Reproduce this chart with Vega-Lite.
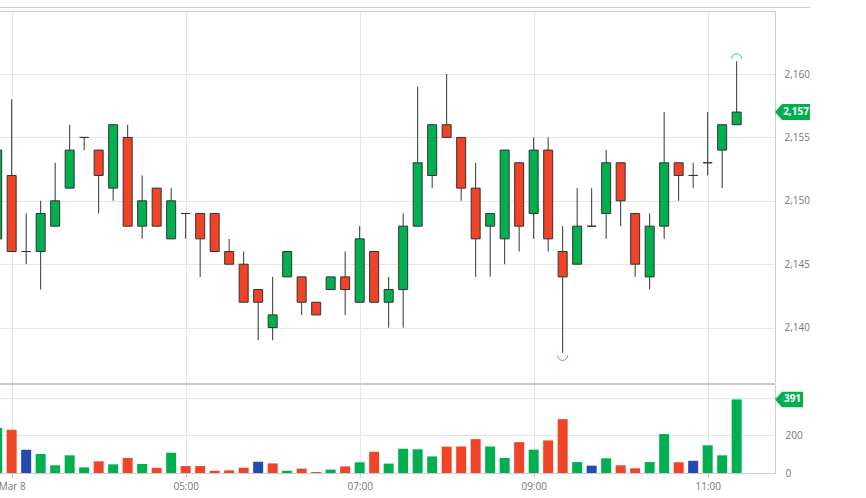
{
  "$schema": "https://vega.github.io/schema/vega-lite/v6.json",
  "padding": {"top": 7, "left": -2, "right": 0, "bottom": 0},
  "spacing": 0,
  "background": "white",
  "config": {
    "view": {"stroke": null},
    "axis": {"labelFont": "Open Sans", "labelFontSize": 10, "labelColor": "#757575", "gridColor": "#e6e6e6", "domainColor": "#cccccc", "tickColor": "#cccccc"}
  },
  "datasets": {
    "candles": [
      {"t":"2024-03-08T02:50:00","open":2147,"high":2155,"low":2146,"close":2154,"volume":239,"vdir":"up"},
      {"t":"2024-03-08T03:00:00","open":2152,"high":2158,"low":2146,"close":2146,"volume":230,"vdir":"down"},
      {"t":"2024-03-08T03:10:00","open":2146,"high":2149,"low":2145,"close":2146,"volume":124,"vdir":"flat"},
      {"t":"2024-03-08T03:20:00","open":2146,"high":2150,"low":2143,"close":2149,"volume":101,"vdir":"up"},
      {"t":"2024-03-08T03:30:00","open":2148,"high":2153,"low":2148,"close":2150,"volume":41,"vdir":"up"},
      {"t":"2024-03-08T03:40:00","open":2151,"high":2156,"low":2151,"close":2154,"volume":94,"vdir":"up"},
      {"t":"2024-03-08T03:50:00","open":2155,"high":2155,"low":2154,"close":2155,"volume":30,"vdir":"up"},
      {"t":"2024-03-08T04:00:00","open":2154,"high":2154,"low":2149,"close":2152,"volume":62,"vdir":"down"},
      {"t":"2024-03-08T04:10:00","open":2151,"high":2156,"low":2150,"close":2156,"volume":46,"vdir":"up"},
      {"t":"2024-03-08T04:20:00","open":2155,"high":2156,"low":2148,"close":2148,"volume":80,"vdir":"down"},
      {"t":"2024-03-08T04:30:00","open":2148,"high":2152,"low":2147,"close":2150,"volume":48,"vdir":"up"},
      {"t":"2024-03-08T04:40:00","open":2151,"high":2151,"low":2148,"close":2148,"volume":27,"vdir":"down"},
      {"t":"2024-03-08T04:50:00","open":2147,"high":2151,"low":2147,"close":2150,"volume":108,"vdir":"up"},
      {"t":"2024-03-08T05:00:00","open":2149,"high":2149,"low":2147,"close":2149,"volume":37,"vdir":"down"},
      {"t":"2024-03-08T05:10:00","open":2149,"high":2149,"low":2144,"close":2147,"volume":37,"vdir":"down"},
      {"t":"2024-03-08T05:20:00","open":2149,"high":2149,"low":2146,"close":2146,"volume":12,"vdir":"down"},
      {"t":"2024-03-08T05:30:00","open":2146,"high":2147,"low":2145,"close":2145,"volume":14,"vdir":"down"},
      {"t":"2024-03-08T05:40:00","open":2145,"high":2146,"low":2142,"close":2142,"volume":28,"vdir":"down"},
      {"t":"2024-03-08T05:50:00","open":2143,"high":2143,"low":2139,"close":2142,"volume":60,"vdir":"flat"},
      {"t":"2024-03-08T06:00:00","open":2140,"high":2144,"low":2139,"close":2141,"volume":51,"vdir":"down"},
      {"t":"2024-03-08T06:10:00","open":2144,"high":2146,"low":2144,"close":2146,"volume":12,"vdir":"up"},
      {"t":"2024-03-08T06:20:00","open":2144,"high":2144,"low":2141,"close":2142,"volume":23,"vdir":"down"},
      {"t":"2024-03-08T06:30:00","open":2142,"high":2142,"low":2141,"close":2141,"volume":5,"vdir":"down"},
      {"t":"2024-03-08T06:40:00","open":2143,"high":2144,"low":2143,"close":2144,"volume":18,"vdir":"up"},
      {"t":"2024-03-08T06:50:00","open":2144,"high":2146,"low":2141,"close":2143,"volume":35,"vdir":"down"},
      {"t":"2024-03-08T07:00:00","open":2142,"high":2148,"low":2142,"close":2147,"volume":57,"vdir":"up"},
      {"t":"2024-03-08T07:10:00","open":2146,"high":2146,"low":2142,"close":2142,"volume":113,"vdir":"down"},
      {"t":"2024-03-08T07:20:00","open":2142,"high":2144,"low":2140,"close":2143,"volume":50,"vdir":"up"},
      {"t":"2024-03-08T07:30:00","open":2143,"high":2149,"low":2140,"close":2148,"volume":129,"vdir":"up"},
      {"t":"2024-03-08T07:40:00","open":2148,"high":2159,"low":2148,"close":2153,"volume":126,"vdir":"up"},
      {"t":"2024-03-08T07:50:00","open":2152,"high":2156,"low":2151,"close":2156,"volume":88,"vdir":"up"},
      {"t":"2024-03-08T08:00:00","open":2156,"high":2160,"low":2155,"close":2155,"volume":140,"vdir":"down"},
      {"t":"2024-03-08T08:10:00","open":2155,"high":2155,"low":2150,"close":2151,"volume":141,"vdir":"down"},
      {"t":"2024-03-08T08:20:00","open":2151,"high":2153,"low":2144,"close":2147,"volume":180,"vdir":"down"},
      {"t":"2024-03-08T08:30:00","open":2148,"high":2149,"low":2144,"close":2149,"volume":141,"vdir":"up"},
      {"t":"2024-03-08T08:40:00","open":2147,"high":2154,"low":2145,"close":2154,"volume":80,"vdir":"up"},
      {"t":"2024-03-08T08:50:00","open":2153,"high":2153,"low":2146,"close":2148,"volume":164,"vdir":"down"},
      {"t":"2024-03-08T09:00:00","open":2149,"high":2155,"low":2147,"close":2154,"volume":124,"vdir":"up"},
      {"t":"2024-03-08T09:10:00","open":2154,"high":2155,"low":2146,"close":2147,"volume":173,"vdir":"down"},
      {"t":"2024-03-08T09:20:00","open":2146,"high":2148,"low":2138,"close":2144,"volume":286,"vdir":"down"},
      {"t":"2024-03-08T09:30:00","open":2145,"high":2151,"low":2145,"close":2148,"volume":58,"vdir":"up"},
      {"t":"2024-03-08T09:40:00","open":2148,"high":2151,"low":2148,"close":2148,"volume":39,"vdir":"flat"},
      {"t":"2024-03-08T09:50:00","open":2149,"high":2154,"low":2147,"close":2153,"volume":78,"vdir":"up"},
      {"t":"2024-03-08T10:00:00","open":2153,"high":2153,"low":2148,"close":2150,"volume":41,"vdir":"down"},
      {"t":"2024-03-08T10:10:00","open":2149,"high":2149,"low":2144,"close":2145,"volume":25,"vdir":"down"},
      {"t":"2024-03-08T10:20:00","open":2144,"high":2149,"low":2143,"close":2148,"volume":58,"vdir":"up"},
      {"t":"2024-03-08T10:30:00","open":2148,"high":2157,"low":2147,"close":2153,"volume":207,"vdir":"up"},
      {"t":"2024-03-08T10:40:00","open":2153,"high":2153,"low":2150,"close":2152,"volume":57,"vdir":"down"},
      {"t":"2024-03-08T10:50:00","open":2152,"high":2153,"low":2151,"close":2152,"volume":65,"vdir":"flat"},
      {"t":"2024-03-08T11:00:00","open":2153,"high":2157,"low":2152,"close":2153,"volume":147,"vdir":"up"},
      {"t":"2024-03-08T11:10:00","open":2154,"high":2156,"low":2151,"close":2156,"volume":94,"vdir":"up"},
      {"t":"2024-03-08T11:20:00","open":2156,"high":2161,"low":2156,"close":2157,"volume":391,"vdir":"up"}
    ]
  },
  "vconcat": [
    {
      "width": 776,
      "height": 372,
      "data": {"name": "candles"},
      "encoding": {
        "x": {
          "field": "t", "type": "temporal",
          "scale": {"domain": [{"year":2024,"month":3,"date":8,"hours":2,"minutes":51,"seconds":16}, {"year":2024,"month":3,"date":8,"hours":11,"minutes":46,"seconds":26}], "padding": 0},
          "axis": {"orient": "top", "title": null, "labels": false, "ticks": false, "domain": true, "grid": true,
            "values": [{"year":2024,"month":3,"date":8,"hours":3}, {"year":2024,"month":3,"date":8,"hours":5}, {"year":2024,"month":3,"date":8,"hours":7}, {"year":2024,"month":3,"date":8,"hours":9}, {"year":2024,"month":3,"date":8,"hours":11}]}
        }
      },
      "layer": [
        {
          "mark": {"type": "rule", "color": "#cccccc", "strokeWidth": 1, "yOffset": -3.5, "clip": false},
          "encoding": {
            "y": {"datum": 2164.97, "type": "quantitative"},
            "x": {"datum": {"year":2024,"month":3,"date":8,"hours":2,"minutes":52}, "type": "temporal"},
            "x2": {"datum": {"year":2024,"month":3,"date":8,"hours":12,"minutes":10,"seconds":34}}
          }
        },
        {
          "mark": {"type": "rule", "color": "#333333", "strokeWidth": 1, "clip": true},
          "encoding": {
            "y": {"field": "low", "type": "quantitative",
              "scale": {"domain": [2135.63, 2164.97], "nice": false, "zero": false},
              "axis": {"orient": "right", "title": null, "values": [2140, 2145, 2150, 2155, 2160], "format": ",", "grid": true, "ticks": false, "domain": true, "labelPadding": 9}},
            "y2": {"field": "high"}
          }
        },
        {
          "mark": {"type": "bar", "size": 9, "stroke": "#333333", "strokeWidth": 1, "clip": true},
          "encoding": {
            "y": {"field": "open", "type": "quantitative"},
            "y2": {"field": "close"},
            "color": {"condition": {"test": "datum.close > datum.open", "value": "#00b050"}, "value": "#ef4427"}
          }
        },
        {
          "transform": [{"joinaggregate": [{"op": "max", "field": "high", "as": "hmax"}]}, {"filter": "datum.high == datum.hmax"}],
          "mark": {"type": "point", "shape": "M -1 0 A 1 1 0 0 1 1 0", "filled": false, "stroke": "#3cc46e", "strokeWidth": 1, "size": 100, "opacity": 1, "yOffset": -2.5},
          "encoding": {"y": {"field": "high", "type": "quantitative"}}
        },
        {
          "transform": [{"joinaggregate": [{"op": "min", "field": "low", "as": "lmin"}]}, {"filter": "datum.low == datum.lmin"}],
          "mark": {"type": "point", "shape": "M -1 0 A 1 1 0 0 0 1 0", "filled": false, "stroke": "#f07060", "strokeWidth": 1, "size": 100, "opacity": 1, "yOffset": 2.5},
          "encoding": {"y": {"field": "low", "type": "quantitative"}}
        },
        {
          "transform": [{"joinaggregate": [{"op": "max", "field": "t", "as": "tmax"}]}, {"filter": "time(datum.t) == time(datum.tmax)"}],
          "layer": [
            {
              "mark": {"type": "point", "shape": "M -1 0 L -0.6 -0.46 L 1 -0.46 L 1 0.46 L -0.6 0.46 Z", "filled": true, "fill": "#00b050", "strokeWidth": 0, "size": 1225, "opacity": 1, "clip": false},
              "encoding": {
                "x": {"datum": {"year":2024,"month":3,"date":8,"hours":11,"minutes":58,"seconds":30}, "type": "temporal"},
                "y": {"field": "close", "type": "quantitative"}
              }
            },
            {
              "mark": {"type": "text", "color": "white", "font": "Open Sans", "fontWeight": "bold", "fontSize": 10, "dx": 3.5, "clip": false},
              "encoding": {
                "x": {"datum": {"year":2024,"month":3,"date":8,"hours":11,"minutes":58,"seconds":30}, "type": "temporal"},
                "y": {"field": "close", "type": "quantitative"},
                "text": {"field": "close", "type": "quantitative", "format": ","}
              }
            }
          ]
        }
      ]
    },
    {
      "width": 776,
      "height": 89,
      "data": {"name": "candles"},
      "layer": [
        {
          "mark": {"type": "bar", "size": 10, "clip": true},
          "encoding": {
            "x": {
              "field": "t", "type": "temporal",
              "scale": {"domain": [{"year":2024,"month":3,"date":8,"hours":2,"minutes":51,"seconds":16}, {"year":2024,"month":3,"date":8,"hours":11,"minutes":46,"seconds":26}], "padding": 0},
              "axis": {"orient": "bottom", "title": null, "grid": true, "ticks": true, "tickSize": 5, "labelPadding": 3, "labelFlush": false, "domain": true,
                "values": [{"year":2024,"month":3,"date":8,"hours":3}, {"year":2024,"month":3,"date":8,"hours":5}, {"year":2024,"month":3,"date":8,"hours":7}, {"year":2024,"month":3,"date":8,"hours":9}, {"year":2024,"month":3,"date":8,"hours":11}],
                "labelExpr": "hours(datum.value) == 3 ? 'Mar 8' : timeFormat(datum.value, '%H:%M')"}
            },
            "y": {"field": "volume", "type": "quantitative",
              "scale": {"domain": [0, 473], "nice": false},
              "axis": {"orient": "right", "title": null, "values": [0, 200, 400], "labelExpr": "datum.value == 400 ? '' : datum.label", "grid": true, "ticks": false, "domain": true, "labelPadding": 10}},
            "color": {"field": "vdir", "type": "nominal", "scale": {"domain": ["up", "down", "flat"], "range": ["#00b050", "#ef4427", "#2249b4"]}, "legend": null}
          }
        },
        {
          "mark": {"type": "rule", "color": "#c8c8c8", "strokeWidth": 1},
          "encoding": {"y": {"datum": 473, "type": "quantitative"}}
        },
        {
          "transform": [{"joinaggregate": [{"op": "max", "field": "t", "as": "tmax"}]}, {"filter": "time(datum.t) == time(datum.tmax)"}],
          "layer": [
            {
              "mark": {"type": "point", "shape": "M -1 0 L -0.5 -0.55 L 1 -0.55 L 1 0.55 L -0.5 0.55 Z", "filled": true, "fill": "#00b050", "strokeWidth": 0, "size": 784, "opacity": 1, "clip": false},
              "encoding": {
                "x": {"datum": {"year":2024,"month":3,"date":8,"hours":11,"minutes":56,"seconds":6}, "type": "temporal"},
                "y": {"field": "volume", "type": "quantitative"}
              }
            },
            {
              "mark": {"type": "text", "color": "white", "font": "Open Sans", "fontWeight": "bold", "fontSize": 10, "dx": 3.5, "clip": false},
              "encoding": {
                "x": {"datum": {"year":2024,"month":3,"date":8,"hours":11,"minutes":56,"seconds":6}, "type": "temporal"},
                "y": {"field": "volume", "type": "quantitative"},
                "text": {"field": "volume", "type": "quantitative"}
              }
            }
          ]
        }
      ]
    }
  ]
}
